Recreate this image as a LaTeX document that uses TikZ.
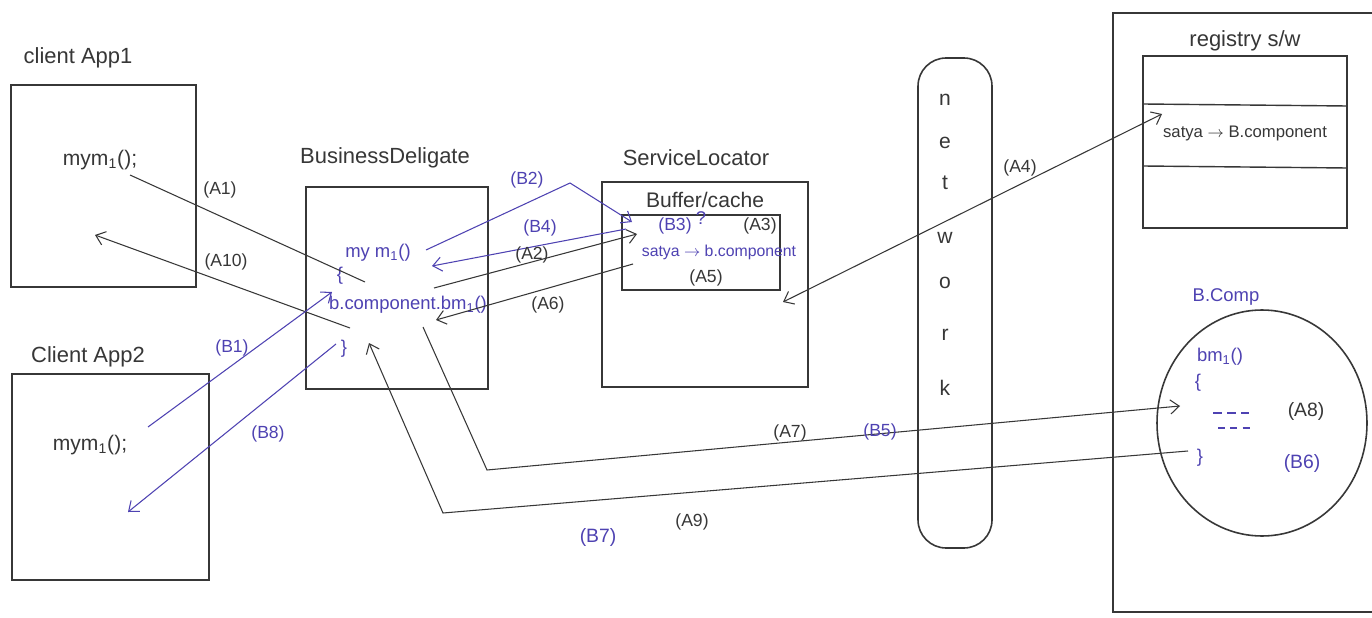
\documentclass[tikz,border=0pt]{standalone}
\usepackage{fontspec}
\setmainfont{Liberation Sans}
\usetikzlibrary{arrows.meta,fit,shapes.geometric}
\definecolor{hblue}{RGB}{78,66,178}
\definecolor{ink}{RGB}{55,55,55}
\begin{document}
\begin{tikzpicture}[x=0.02cm,y=-0.02cm,
  box/.style={draw=ink, line width=0.9pt, inner sep=0pt},
  title/.style={text=ink, font=\fontsize{12.5}{14}\selectfont, inner sep=0pt},
  txt/.style={text=ink, font=\fontsize{12}{14}\selectfont, inner sep=0pt},
  btxt/.style={text=hblue, font=\fontsize{10.5}{12}\selectfont, inner sep=0pt},
  lbl/.style={text=ink, font=\fontsize{10}{12}\selectfont, inner sep=0pt},
  blbl/.style={text=hblue, font=\fontsize{10}{12}\selectfont, inner sep=0pt},
  conn/.style={draw=ink, line width=0.6pt},
  bconn/.style={draw=hblue, line width=0.6pt},
  tip/.style={-{Straight Barb[length=5pt,width=8pt]}},
  bothtips/.style={{Straight Barb[length=5pt,width=8pt]}-{Straight Barb[length=5pt,width=8pt]}},
]
\useasboundingbox (0,0) rectangle (1372,618);
\fill[white] (0,0) rectangle (1372,618);

% ---------- Client App 1 ----------
\node[box, fit={(11,85)(196,287)}] (app1) {};
\node[title] (app1t) at (78,58) {client App1};
\node[txt] (app1m) at (100,160) {mym\textsubscript{1}();};

% ---------- Client App 2 ----------
\node[box, fit={(12,374)(209,580)}] (app2) {};
\node[title] (app2t) at (88,357) {Client App2};
\node[txt] (app2m) at (90,445) {mym\textsubscript{1}();};

% ---------- Business Delegate ----------
\node[box, fit={(306,187)(488,389)}] (bd) {};
\node[title] (bdt) at (385,158) {BusinessDeligate};
\node[btxt] (bdm) at (378,253) {my m\textsubscript{1}()};
\node[btxt] (bdo) at (340,276) {\{};
\node[btxt] (bdc) at (408,305) {b.component.bm\textsubscript{1}()};
\node[btxt] (bdx) at (344,349) {\}};

% ---------- Service Locator ----------
\node[box, fit={(602,182)(808,387)}] (sl) {};
\node[title] (slt) at (696,158) {ServiceLocator};
\node[txt] (bct) at (705,200) {Buffer/cache};
\node[box, fit={(622,215)(780,290)}] (buf) {};
\node[blbl] (b3) at (675,226) {(B3)};
\node[btxt] (q) at (701,218) {?};
\node[lbl] (a3) at (760,226) {(A3)};
\node[text=hblue, font=\fontsize{9}{11}\selectfont, inner sep=0pt] (slsat) at (719,252) {satya $\rightarrow$ b.component};
\node[lbl] (a5) at (706,278) {(A5)};

% ---------- Network ----------
\node[box, rounded corners=16pt, fit={(918,58)(992,548)}] (net) {};
\foreach \ch/\yy [count=\i] in {n/100,e/143,t/183,w/238,o/283,r/335,k/388}
  \node[txt] (net\i) at (945,\yy) {\ch};

% ---------- Registry ----------
\coordinate (rtl) at (1113,13);
\coordinate (rtr) at (1372,13);
\coordinate (rbl) at (1113,612);
\coordinate (rbr) at (1372,612);
\draw[draw=ink, line width=0.9pt] (rtr) -- (rtl) -- (rbl) -- (rbr);
\node[title] (regt) at (1245,41) {registry s/w};
\node[box, fit={(1143,56)(1347,228)}] (tab) {};
\coordinate (r1l) at (1143,104); \coordinate (r1r) at (1347,106);
\coordinate (r2l) at (1143,166); \coordinate (r2r) at (1347,168);
\draw[draw=ink, line width=0.8pt] (r1l) -- (r1r);
\draw[draw=ink, line width=0.8pt] (r2l) -- (r2r);
\node[text=ink, font=\fontsize{9.5}{11}\selectfont, inner sep=0pt] (regsat) at (1245,133) {satya $\rightarrow$ B.component};

% ---------- B.Comp ----------
\node[text=hblue, font=\fontsize{10.5}{12}\selectfont, inner sep=0pt] (bct2) at (1226,297) {B.Comp};
\node[draw=ink, line width=0.9pt, ellipse, inner sep=0pt, minimum width=210*0.02cm, minimum height=226*0.02cm] (bcomp) at (1262,423) {};
\node[btxt] (bbm) at (1220,357) {bm\textsubscript{1}()};
\node[btxt] (bbo) at (1198,383) {\{};
\node[btxt] (bbc) at (1200,458) {\}};
\node[lbl, font=\fontsize{11}{12}\selectfont] (a8) at (1306,411) {(A8)};
\node[blbl, font=\fontsize{11}{12}\selectfont] (b6) at (1302,463) {(B6)};
\coordinate (d1a) at (1213,413); \coordinate (d1b) at (1249,413);
\coordinate (d2a) at (1218,428); \coordinate (d2b) at (1250,428);
\draw[hblue, line width=0.6pt, dash pattern=on 5pt off 3pt] (d1a) -- (d1b);
\draw[hblue, line width=0.6pt, dash pattern=on 4pt off 3pt] (d2a) -- (d2b);

% ---------- connector end points ----------
\coordinate (a1s) at (130,175);   \coordinate (a1e) at (365,282);
\coordinate (a10s) at (350,328);  \coordinate (a10e) at (95,235);
\coordinate (b1s) at (148,427);   \coordinate (b1e) at (332,292);
\coordinate (b8s) at (336,344);   \coordinate (b8e) at (128,512);
\coordinate (b2s) at (426,250);   \coordinate (b2m) at (570,183);  \coordinate (b2e) at (632,222);
\coordinate (b4s) at (626,229);   \coordinate (b4e) at (432,266);
\coordinate (a2s) at (434,288);   \coordinate (a2e) at (637,234);
\coordinate (a6s) at (633,264);   \coordinate (a6e) at (436,320);
\coordinate (a4s) at (783,302);   \coordinate (a4e) at (1162,114);
\coordinate (a7s) at (423,327);   \coordinate (a7m) at (487,470);  \coordinate (a7e) at (1180,406);
\coordinate (a9s) at (1188,451);  \coordinate (a9m) at (443,513);  \coordinate (a9e) at (369,343);

% ---------- connectors ----------
\draw[conn] (a1s) -- (a1e);
\draw[conn, tip] (a10s) -- (a10e);
\draw[bconn, tip] (b1s) -- (b1e);
\draw[bconn, tip] (b8s) -- (b8e);
\draw[bconn, tip] (b2s) -- (b2m) -- (b2e);
\draw[bconn, tip] (b4s) -- (b4e);
\draw[conn, tip] (a2s) -- (a2e);
\draw[conn, tip] (a6s) -- (a6e);
\draw[conn, bothtips] (a4s) -- (a4e);
\draw[conn, tip] (a7s) -- (a7m) -- (a7e);
\draw[conn, tip] (a9s) -- (a9m) -- (a9e);

% ---------- labels ----------
\node[lbl] (la1) at (220,190) {(A1)};
\node[lbl] (la10) at (226,262) {(A10)};
\node[blbl] (lb1) at (232,348) {(B1)};
\node[blbl] (lb8) at (268,434) {(B8)};
\node[blbl] (lb2) at (527,180) {(B2)};
\node[blbl] (lb4) at (540,228) {(B4)};
\node[lbl] (la2) at (532,255) {(A2)};
\node[lbl] (la6) at (548,305) {(A6)};
\node[lbl] (la4) at (1020,168) {(A4)};
\node[lbl] (la7) at (790,433) {(A7)};
\node[blbl] (lb5) at (880,432) {(B5)};
\node[blbl, font=\fontsize{11}{12}\selectfont] (lb7) at (598,537) {(B7)};
\node[lbl] (la9) at (692,522) {(A9)};
\end{tikzpicture}
\end{document}
